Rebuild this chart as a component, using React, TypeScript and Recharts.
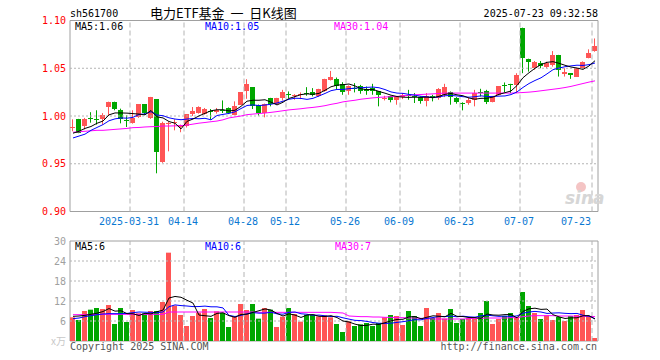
import React from "react";
import { Bar, ComposedChart, Line, ReferenceArea, ReferenceLine, XAxis, YAxis } from "recharts";

// trading days 2025-03-17 .. 2025-07-23
const DATES = [
  "2025-03-17", "2025-03-18", "2025-03-19", "2025-03-20", "2025-03-21", "2025-03-24", "2025-03-25", "2025-03-26", "2025-03-27", "2025-03-28", "2025-03-31",
  "2025-04-01", "2025-04-02", "2025-04-03", "2025-04-07", "2025-04-08", "2025-04-09", "2025-04-10", "2025-04-11", "2025-04-14", "2025-04-15", "2025-04-16",
  "2025-04-17", "2025-04-18", "2025-04-21", "2025-04-22", "2025-04-23", "2025-04-24", "2025-04-25", "2025-04-28", "2025-04-29", "2025-04-30",
  "2025-05-06", "2025-05-07", "2025-05-08", "2025-05-09", "2025-05-12", "2025-05-13", "2025-05-14", "2025-05-15", "2025-05-16", "2025-05-19",
  "2025-05-20", "2025-05-21", "2025-05-22", "2025-05-23", "2025-05-26", "2025-05-27", "2025-05-28", "2025-05-29", "2025-05-30",
  "2025-06-03", "2025-06-04", "2025-06-05", "2025-06-06", "2025-06-09", "2025-06-10", "2025-06-11", "2025-06-12", "2025-06-13", "2025-06-16",
  "2025-06-17", "2025-06-18", "2025-06-19", "2025-06-20", "2025-06-23", "2025-06-24", "2025-06-25", "2025-06-26", "2025-06-27", "2025-06-30",
  "2025-07-01", "2025-07-02", "2025-07-03", "2025-07-04", "2025-07-07", "2025-07-08", "2025-07-09", "2025-07-10", "2025-07-11", "2025-07-14",
  "2025-07-15", "2025-07-16", "2025-07-17", "2025-07-18", "2025-07-21", "2025-07-22", "2025-07-23",
];

const OPEN = [
  0.988, 0.9965, 0.99, 0.9975, 0.9968, 0.997, 1.009, 1.0147, 1.0063, 0.9958,
  0.993, 0.9993, 1.0122, 0.9983, 1.0175, 0.952, 0.992, 0.9935, 0.988, 0.9895,
  1.0017, 1.0031, 1.0025, 1.0056, 1.0045, 1.0058, 1.0087, 1.0014, 1.0118, 1.0257,
  1.0299, 1.0118, 1.0031, 1.0188, 1.0125, 1.0188, 1.0235, 1.0212, 1.0215, 1.024,
  1.025, 1.0205, 1.0257, 1.0379, 1.0385, 1.0333, 1.0257, 1.0292, 1.0316, 1.0281,
  1.0292, 1.0257, 1.0186, 1.0205, 1.017, 1.0198, 1.0222, 1.0212, 1.0195, 1.0153,
  1.0205, 1.0188, 1.0222, 1.025, 1.0188, 1.0138, 1.0136, 1.017, 1.0248, 1.0257,
  1.0146, 1.0222, 1.0328, 1.0335, 1.0327, 1.0923, 1.0597, 1.0507, 1.0559, 1.0517,
  1.0535, 1.0639, 1.0438, 1.0448, 1.0413, 1.05, 1.0611, 1.068,
];
const HIGH = [
  0.9965, 0.997, 0.998, 1.004, 1.006, 1.003, 1.015, 1.015, 1.0077, 1.0007,
  1.006, 1.0122, 1.0125, 1.02, 1.0175, 0.994, 0.994, 0.9965, 0.991, 1.0017,
  1.0094, 1.0101, 1.0084, 1.0073, 1.0084, 1.0163, 1.009, 1.0153, 1.025, 1.0385,
  1.0302, 1.012, 1.013, 1.019, 1.019, 1.0274, 1.0257, 1.0229, 1.0247, 1.0302,
  1.0292, 1.0285, 1.039, 1.0472, 1.0403, 1.0354, 1.032, 1.0344, 1.0326, 1.0309,
  1.0337, 1.026, 1.0212, 1.0212, 1.0205, 1.024, 1.0274, 1.024, 1.0205, 1.024,
  1.0222, 1.0292, 1.0337, 1.0257, 1.0198, 1.0143, 1.0188, 1.0274, 1.0285, 1.0274,
  1.02, 1.0312, 1.0351, 1.0337, 1.0448, 1.0925, 1.06, 1.0576, 1.0576, 1.0569,
  1.068, 1.064, 1.05, 1.045, 1.0504, 1.0572, 1.0698, 1.0812,
];
const LOW = [
  0.984, 0.982, 0.986, 0.993, 0.991, 0.991, 1.0, 1.006, 0.9923, 0.9885,
  0.992, 0.998, 1.001, 0.997, 0.94, 0.951, 0.963, 0.985, 0.983, 0.988,
  1.0, 1.0025, 1.0014, 0.9962, 1.0025, 1.0031, 1.002, 1.001, 1.0115, 1.018,
  1.0073, 1.0004, 0.9986, 1.0101, 1.012, 1.0163, 1.0188, 1.017, 1.0177, 1.0212,
  1.0205, 1.02, 1.0254, 1.0372, 1.0281, 1.0222, 1.0222, 1.0247, 1.0233, 1.0222,
  1.0222, 1.0101, 1.0163, 1.0143, 1.0118, 1.0177, 1.017, 1.0136, 1.0129, 1.0101,
  1.0153, 1.017, 1.0198, 1.0118, 1.0129, 1.0059, 1.0118, 1.0101, 1.0205, 1.0125,
  1.0143, 1.0215, 1.025, 1.024, 1.024, 1.0448, 1.0465, 1.0483, 1.05, 1.05,
  1.0517, 1.0413, 1.0413, 1.0389, 1.041, 1.0497, 1.0604, 1.0673,
];
const CLOSE = [
  0.989, 0.9825, 0.997, 0.997, 0.9965, 1.0007, 1.0147, 1.007, 0.9972, 0.9955,
  0.9983, 1.0122, 1.0028, 1.02, 0.962, 0.993, 0.993, 0.994, 0.9905, 1.0017,
  1.005, 1.0094, 1.0073, 1.0042, 1.0066, 1.0055, 1.0031, 1.0108, 1.0247, 1.0333,
  1.0108, 1.0031, 1.0129, 1.0125, 1.0188, 1.0247, 1.0232, 1.0222, 1.0229, 1.0229,
  1.0222, 1.0281, 1.0385, 1.0413, 1.0316, 1.0247, 1.0316, 1.0281, 1.0267, 1.0267,
  1.0257, 1.0215, 1.0188, 1.0163, 1.0195, 1.0222, 1.0205, 1.0198, 1.0153, 1.0212,
  1.0188, 1.0281, 1.0302, 1.0198, 1.0143, 1.0135, 1.0163, 1.024, 1.0245, 1.0146,
  1.0195, 1.0309, 1.0326, 1.0333, 1.0431, 1.0604, 1.0569, 1.0562, 1.0524, 1.0552,
  1.0639, 1.0483, 1.0458, 1.0431, 1.05, 1.0569, 1.0663, 1.0733,
];

const MA5 = [
  0.982, 0.984, 0.987, 0.989, 0.9924, 0.9947, 1.0012, 1.0032, 1.0032, 1.003,
  1.0025, 1.002, 1.0012, 1.0058, 0.9991, 0.998, 0.9942, 0.9924, 0.9865, 0.9944,
  0.9968, 1.0001, 1.0028, 1.0055, 1.0065, 1.0066, 1.0053, 1.006, 1.0101, 1.0155,
  1.0165, 1.0165, 1.017, 1.0145, 1.0116, 1.0144, 1.0184, 1.0203, 1.0224, 1.0232,
  1.0227, 1.0237, 1.0269, 1.0306, 1.0323, 1.0328, 1.0335, 1.0315, 1.0285, 1.0276,
  1.0278, 1.0257, 1.0239, 1.0218, 1.0204, 1.0197, 1.0195, 1.0197, 1.0195, 1.0198,
  1.0191, 1.0206, 1.0227, 1.0236, 1.0222, 1.0212, 1.0188, 1.0176, 1.0185, 1.0186,
  1.0198, 1.0227, 1.0244, 1.0262, 1.0319, 1.0401, 1.0453, 1.05, 1.0538, 1.0562,
  1.0569, 1.0552, 1.0531, 1.0513, 1.0502, 1.0488, 1.0524, 1.0579,
];
const MA10 = [
  0.977, 0.979, 0.981, 0.985, 0.988, 0.991, 0.995, 0.997, 0.998, 0.9977,
  0.9986, 1.0016, 1.0022, 1.0045, 1.001, 1.0003, 0.9981, 0.9968, 0.9961, 0.9968,
  0.9974, 0.9971, 0.9976, 0.996, 1.0005, 1.0017, 1.0027, 1.0044, 1.0078, 1.011,
  1.0116, 1.0109, 1.0115, 1.0123, 1.0136, 1.0155, 1.0175, 1.0186, 1.0184, 1.0174,
  1.0185, 1.021, 1.0236, 1.0265, 1.0278, 1.0278, 1.0286, 1.0292, 1.0296, 1.03,
  1.0303, 1.0296, 1.0277, 1.0252, 1.024, 1.0237, 1.0226, 1.0218, 1.0206, 1.0201,
  1.0194, 1.02, 1.0212, 1.0215, 1.021, 1.0202, 1.0197, 1.0202, 1.0211, 1.0204,
  1.0205, 1.0208, 1.021, 1.0224, 1.0252, 1.0299, 1.034, 1.0372, 1.04, 1.0441,
  1.0485, 1.0502, 1.0516, 1.0525, 1.0532, 1.0529, 1.0538, 1.0555,
];
const MA30 = [
  0.983, 0.9835, 0.984, 0.9845, 0.985, 0.985, 0.9855, 0.986, 0.9865, 0.987,
  0.9878, 0.988, 0.9885, 0.9888, 0.989, 0.9895, 0.9895, 0.9897, 0.99, 0.9905,
  0.9915, 0.9925, 0.9932, 0.994, 0.9947, 0.996, 0.998, 0.999, 1.0, 1.0014,
  1.002, 1.0026, 1.0031, 1.0038, 1.0046, 1.0055, 1.0064, 1.007, 1.0076, 1.0084,
  1.009, 1.0098, 1.0108, 1.0122, 1.0133, 1.0148, 1.0157, 1.0165, 1.0176, 1.0183,
  1.019, 1.0195, 1.0199, 1.0202, 1.0205, 1.0211, 1.0218, 1.0222, 1.0225, 1.0229,
  1.0232, 1.0236, 1.024, 1.024, 1.024, 1.024, 1.024, 1.024, 1.024, 1.024,
  1.024, 1.024, 1.024, 1.024, 1.0242, 1.0246, 1.025, 1.0256, 1.0264, 1.0272,
  1.028, 1.0288, 1.0298, 1.031, 1.0325, 1.034, 1.0355, 1.0368,
];

// volume, 万
const VOLUME = [
  7.1, 6.3, 9.0, 9.4, 9.9, 9.6, 10.8, 5.1, 9.9, 5.7,
  9.3, 8.3, 8.3, 9.0, 9.0, 11.7, 26.5, 10.6, 7.8, 4.5,
  7.5, 8.5, 9.6, 6.9, 8.9, 8.4, 4.2, 7.2, 11.1, 9.3,
  11.1, 6.7, 9.9, 9.4, 4.2, 7.3, 9.9, 8.1, 5.8, 7.9,
  7.9, 7.4, 7.7, 7.1, 5.1, 2.7, 5.9, 4.5, 5.0, 5.4,
  4.5, 5.4, 7.1, 7.8, 7.5, 4.8, 9.0, 7.5, 4.5, 9.9,
  6.9, 8.4, 6.7, 9.6, 5.4, 6.6, 6.9, 6.6, 8.4, 12.0,
  5.1, 6.6, 7.5, 8.4, 7.2, 14.7, 10.5, 8.4, 6.6, 7.7,
  6.3, 7.2, 6.0, 7.5, 7.8, 9.3, 7.5, 0.9,
];
const VOL_MA5 = [
  7.4, 7.5, 7.7, 8.0, 8.34, 8.84, 9.74, 8.96, 9.06, 8.22,
  8.16, 7.66, 8.3, 8.12, 8.78, 9.26, 12.9, 13.36, 13.12, 12.22,
  11.38, 7.78, 7.58, 7.4, 8.28, 8.46, 7.6, 7.12, 7.96, 8.04,
  8.58, 9.08, 9.62, 9.28, 8.26, 7.5, 8.14, 7.78, 7.06, 7.8,
  7.92, 7.42, 7.34, 7.6, 7.04, 6.0, 5.7, 5.06, 4.64, 4.7,
  5.06, 4.96, 5.48, 6.04, 6.46, 6.52, 7.24, 7.32, 6.66, 7.14,
  7.56, 7.44, 7.28, 8.3, 7.4, 7.34, 7.04, 7.02, 6.78, 8.1,
  7.8, 7.74, 7.92, 7.92, 6.96, 8.88, 9.66, 9.84, 9.48, 9.58,
  7.9, 7.24, 6.76, 6.94, 6.96, 7.56, 7.62, 6.6,
];
const VOL_MA10 = [
  6.7, 6.9, 7.3, 7.6, 7.9, 8.1, 8.2, 8.2, 8.2, 8.28,
  8.5, 8.7, 8.63, 8.59, 8.5, 8.71, 10.28, 10.83, 10.62, 10.5,
  10.32, 10.34, 10.47, 10.26, 10.25, 9.92, 7.69, 7.35, 7.68, 8.16,
  8.52, 8.34, 8.37, 8.62, 8.15, 8.04, 8.61, 8.7, 8.17, 8.03,
  7.71, 7.78, 7.56, 7.33, 7.42, 6.96, 6.56, 6.2, 6.12, 5.87,
  5.53, 5.33, 5.27, 5.34, 5.58, 5.79, 6.1, 6.4, 6.35, 6.8,
  7.04, 7.34, 7.3, 7.48, 7.27, 7.45, 7.24, 7.15, 7.54, 7.75,
  7.57, 7.39, 7.47, 7.35, 7.53, 8.34, 8.7, 8.88, 8.7, 8.27,
  8.39, 8.45, 8.3, 8.21, 8.27, 7.73, 7.43, 6.68,
];
const VOL_MA30 = [
  7.9, 7.9, 7.9, 7.9, 7.9, 8.0, 8.0, 8.0, 8.0, 8.0,
  8.0, 8.0, 8.0, 8.0, 8.0, 8.0, 8.7, 8.7, 8.7, 8.7,
  8.7, 8.7, 8.7, 8.7, 8.7, 8.7, 8.7, 8.7, 8.7, 8.7,
  8.7, 8.6, 8.6, 8.6, 8.6, 8.6, 8.6, 8.6, 8.6, 8.6,
  8.6, 8.6, 8.6, 8.6, 8.5, 8.4, 7.5, 7.4, 7.3, 7.3,
  7.2, 7.2, 7.1, 7.1, 7.0, 7.0, 6.9, 6.9, 6.8, 6.7,
  6.6, 6.6, 6.6, 6.6, 6.6, 6.6, 6.7, 6.8, 6.8, 6.9,
  6.9, 6.9, 6.9, 7.0, 7.0, 7.3, 7.5, 7.6, 7.6, 7.6,
  7.6, 7.5, 7.5, 7.5, 7.4, 7.4, 7.4, 7.3,
];

const TICK_IDX = [10, 19, 29, 36, 46, 55, 65, 75, 87];
const PRICE_TICKS = [0.9, 0.95, 1.0, 1.05, 1.1];
const PRICE_GRID = [0.95, 1.0, 1.05];
const VOL_TICKS = [0, 6, 12, 18, 24, 30];
const VOL_GRID = [6, 12, 18, 24];

const UP = "#ff5555";
const DOWN = "#00a600";
const GRID = "#b4b4b4";
const BORDER = "#a0a0a0";
const MONO = "'DejaVu Sans Mono', monospace";
const CJK = "'Noto Sans CJK SC', sans-serif";
const X_DOMAIN: [number, number] = [-0.5, DATES.length - 0.5];

const rows = DATES.map((date, i) => ({
  idx: i,
  date,
  open: OPEN[i],
  high: HIGH[i],
  low: LOW[i],
  close: CLOSE[i],
  range: [LOW[i], HIGH[i]],
  vol: VOLUME[i],
  ma5: MA5[i],
  ma10: MA10[i],
  ma30: MA30[i],
  vma5: VOL_MA5[i],
  vma10: VOL_MA10[i],
  vma30: VOL_MA30[i],
}));

function Candle(props: any) {
  const { x, y, width, height, payload } = props;
  const { open, close, high, low } = payload;
  const span = high - low || 1e-6;
  const yOf = (v: number) => y + ((high - v) / span) * height;
  const color = close >= open ? UP : DOWN;
  const bx = Math.round(x);
  const bw = Math.round(width);
  const wx = bx + Math.floor(bw / 2) + 0.5;
  const top = Math.round(yOf(Math.max(open, close)));
  const bot = Math.round(yOf(Math.min(open, close)));
  return (
    <g>
      <line x1={wx} x2={wx} y1={y} y2={y + height} stroke={color} strokeWidth={1} />
      <rect x={bx} y={top} width={bw} height={Math.max(1, bot - top)} fill={color} />
    </g>
  );
}

function VolBar(props: any) {
  const { x, y, width, height, payload } = props;
  const color = payload.close >= payload.open ? UP : DOWN;
  return <rect x={Math.round(x)} y={y} width={Math.round(width)} height={height} fill={color} />;
}

function DateTick(props: any) {
  const { x, payload } = props;
  const i = Math.round(payload.value + 0.5);
  const last = i === DATES.length - 1;
  const label = i === TICK_IDX[0] ? DATES[i] : DATES[i].slice(5);
  return (
    <text x={x - 1} y={225} textAnchor={last ? "end" : "middle"} fontFamily={MONO} fontSize={10} fill="#0a78d2">
      {label}
    </text>
  );
}

function PriceTick(props: any) {
  const { y, payload } = props;
  return (
    <text x={66} y={y + 3.5} textAnchor="end" fontFamily={MONO} fontSize={10} fill="#ff0000">
      {payload.value.toFixed(2)}
    </text>
  );
}

function VolTick(props: any) {
  const { y, payload } = props;
  const zero = payload.value === 0;
  return (
    <text x={66} y={y + 3.5} textAnchor="end" fontFamily={zero ? CJK : MONO} fontSize={10} fill={zero ? "#c8c8c8" : "#a0a0a0"}>
      {zero ? "x万" : payload.value}
    </text>
  );
}

function Overlay() {
  const t = { fontFamily: MONO, fontSize: 10 };
  return (
    <svg width={660} height={360} style={{ position: "absolute", left: 0, top: 0, pointerEvents: "none" }}>
      <text x={70} y={17} {...t} fill="#000">sh561700</text>
      <text x={150} y={18} fontFamily={CJK} fontSize={13} fill="#000" style={{ whiteSpace: "pre" }}>
        电力ETF基金  一  日K线图
      </text>
      <text x={598} y={17} {...t} textAnchor="end" fill="#000">2025-07-23 09:32:58</text>

      <text x={75} y={30} {...t} fill="#000">MA5:1.06</text>
      <text x={205} y={30} {...t} fill="#0000ff">MA10:1.05</text>
      <text x={334} y={30} {...t} fill="#ff00ff">MA30:1.04</text>

      <text x={75} y={250} {...t} fill="#000">MA5:6</text>
      <text x={205} y={250} {...t} fill="#0000ff">MA10:6</text>
      <text x={335} y={250} {...t} fill="#ff00ff">MA30:7</text>

      <circle cx={581} cy={187} r={5} fill="#f4c4c4" />
      <text x={565} y={204} fontFamily="'DejaVu Sans', sans-serif" fontSize={17} fontWeight="bold" fontStyle="italic" fill="#d6d6d6">sina</text>

      <text x={70} y={350} {...t} fill="#555">Copyright 2025 SINA.COM</text>
      <text x={597} y={350} {...t} textAnchor="end" fill="#555">http://finance.sina.com.cn</text>
    </svg>
  );
}

export default function App() {
  return (
    <div style={{ position: "absolute", left: 0, top: 0, width: 660, height: 360, background: "#fff", overflow: "hidden" }}>
      <div style={{ position: "absolute", left: 0, top: 0 }}>
        <ComposedChart width={660} height={240} data={rows} margin={{ top: 20.5, right: 62, bottom: 8.5, left: 0 }}>
          <XAxis dataKey="idx" type="number" domain={X_DOMAIN} ticks={TICK_IDX.map((i) => i - 0.5)} interval={0} tick={<DateTick />} axisLine={false} tickLine={false} height={20} allowDataOverflow />
          <YAxis type="number" domain={[0.9, 1.1]} ticks={PRICE_TICKS} interval={0} tick={<PriceTick />} axisLine={false} tickLine={false} width={70} allowDataOverflow />
          {PRICE_GRID.map((v) => (
            <ReferenceLine key={`h${v}`} y={v} stroke={GRID} strokeDasharray="2 2" />
          ))}
          {TICK_IDX.map((i) => (
            <ReferenceLine key={`v${i}`} x={i - 0.5} stroke={GRID} strokeDasharray="5 3" />
          ))}
          <Bar dataKey="range" barSize={5} shape={(p: any) => <Candle {...p} />} isAnimationActive={false} />
          <Line dataKey="ma30" type="linear" stroke="#ff00ff" strokeWidth={1} dot={false} isAnimationActive={false} />
          <Line dataKey="ma10" type="linear" stroke="#0000ff" strokeWidth={1} dot={false} isAnimationActive={false} />
          <Line dataKey="ma5" type="linear" stroke="#000000" strokeWidth={1} dot={false} isAnimationActive={false} />
          <ReferenceArea x1={X_DOMAIN[0]} x2={X_DOMAIN[1]} y1={0.9} y2={1.1} fill="none" fillOpacity={0} stroke={BORDER} strokeWidth={1} />
        </ComposedChart>
      </div>
      <div style={{ position: "absolute", left: 0, top: 230 }}>
        <ComposedChart width={660} height={120} data={rows} margin={{ top: 11, right: 62, bottom: 9, left: 0 }}>
          <XAxis dataKey="idx" type="number" domain={X_DOMAIN} ticks={TICK_IDX.map((i) => i - 0.5)} hide allowDataOverflow />
          <YAxis type="number" domain={[0, 30]} ticks={VOL_TICKS} interval={0} tick={<VolTick />} axisLine={false} tickLine={false} width={70} allowDataOverflow />
          {VOL_GRID.map((v) => (
            <ReferenceLine key={`h${v}`} y={v} stroke={GRID} strokeDasharray="2 2" />
          ))}
          {TICK_IDX.map((i) => (
            <ReferenceLine key={`v${i}`} x={i - 0.5} stroke={GRID} strokeDasharray="5 3" />
          ))}
          <Bar dataKey="vol" barSize={5} shape={(p: any) => <VolBar {...p} />} isAnimationActive={false} />
          <Line dataKey="vma30" type="linear" stroke="#ff00ff" strokeWidth={1} dot={false} isAnimationActive={false} />
          <Line dataKey="vma10" type="linear" stroke="#0000ff" strokeWidth={1} dot={false} isAnimationActive={false} />
          <Line dataKey="vma5" type="linear" stroke="#000000" strokeWidth={1} dot={false} isAnimationActive={false} />
          <ReferenceArea x1={X_DOMAIN[0]} x2={X_DOMAIN[1]} y1={0} y2={30} fill="none" fillOpacity={0} stroke={BORDER} strokeWidth={1} />
        </ComposedChart>
      </div>
      <Overlay />
    </div>
  );
}
